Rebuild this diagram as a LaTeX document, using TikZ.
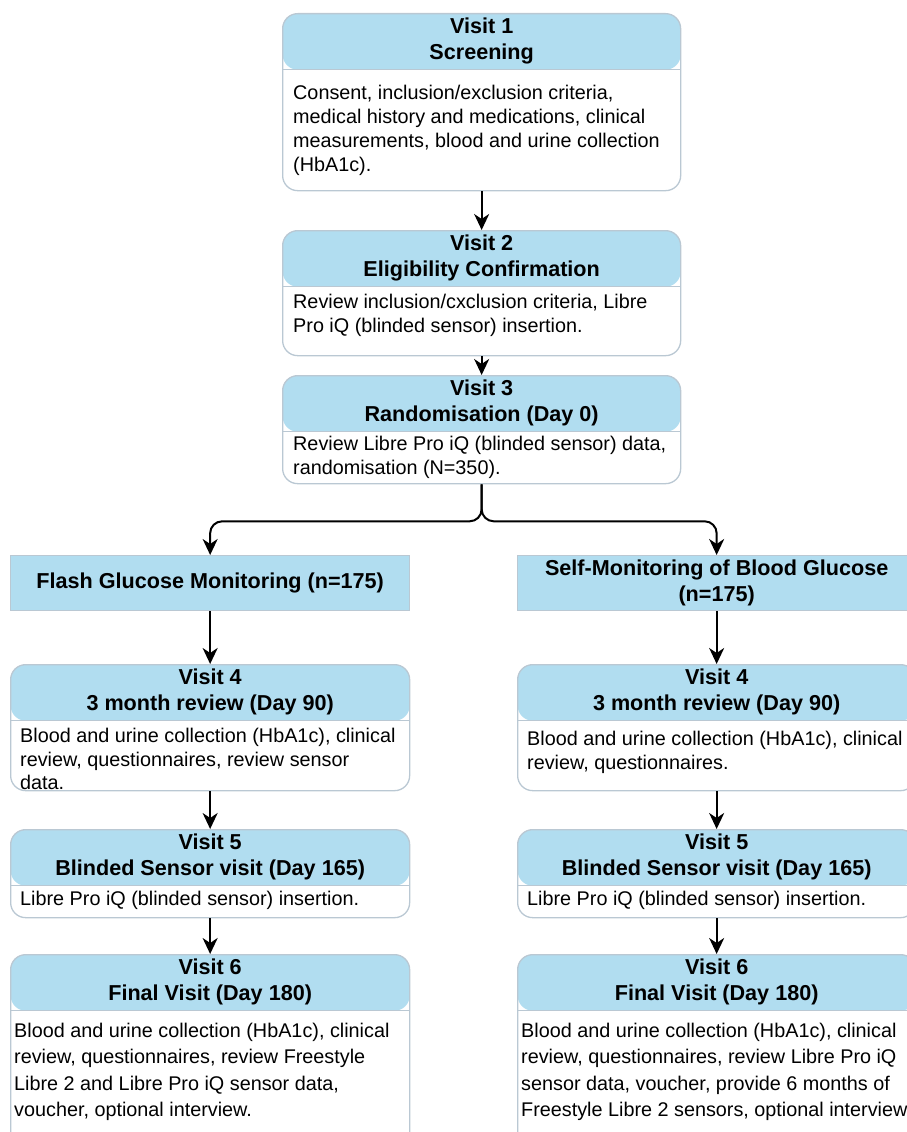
\documentclass[tikz,border=0pt]{standalone}
\usepackage{fontspec}
\setmainfont{Liberation Sans}
\usepackage{tikz}
\usetikzlibrary{arrows.meta}
\definecolor{hdrblue}{HTML}{B1DDF0}
\definecolor{edgegray}{HTML}{BAC8D3}
\newcommand{\hdfont}{\fontsize{21.6}{26}\selectfont\bfseries}
\newcommand{\bdfont}{\fontsize{19.8}{23.8}\selectfont}
\newcommand{\bdfontw}{\fontsize{19.8}{26.3}\selectfont}

\begin{document}
\begin{tikzpicture}[x=1pt,y=-1pt,
   visit/.style={draw=edgegray,line width=1.3pt,fill=white,rounded corners=15pt,
      anchor=north west,inner sep=0pt,
      path picture={
         \fill[hdrblue] (path picture bounding box.north west)
            rectangle ([yshift=-56pt]path picture bounding box.north east);
         \draw[edgegray,line width=1.3pt] ([yshift=-56pt]path picture bounding box.north west)
            -- ([yshift=-56pt]path picture bounding box.north east);}},
   group/.style={draw=edgegray,fill=hdrblue,line width=1.3pt,anchor=north west,
      inner sep=0pt,font=\hdfont,align=center},
   head/.style={font=\hdfont,align=center,inner sep=0pt},
   body/.style={font=\bdfont,align=left,anchor=west,inner sep=0pt},
   link/.style={-{Stealth[length=16pt,width=15pt,inset=5pt]},line width=2pt}]
   \useasboundingbox (0,0) rectangle (907,1132);
   \clip (0,0) rectangle (907,1132);

   \node[visit,minimum width=398pt,minimum height=177pt] (v1) at (282,13) {};
   \node[head] (v1h) at ([yshift=-28pt]v1.north) {Visit 1\\Screening};
   \node[body] (v1b) at (293,130.5) {Consent, inclusion/exclusion criteria,\\
      medical history and medications, clinical\\
      measurements, blood and urine collection\\(HbA1c).};

   \node[visit,minimum width=398pt,minimum height=125pt] (v2) at (282,230) {};
   \node[head] (v2h) at ([yshift=-28pt]v2.north) {Visit 2\\Eligibility Confirmation};
   \node[body] (v2b) at (293,315.5) {Review inclusion/cxclusion criteria, Libre\\
      Pro iQ (blinded sensor) insertion.};

   \node[visit,minimum width=398pt,minimum height=108pt] (v3) at (282,375) {};
   \node[head] (v3h) at ([yshift=-28pt]v3.north) {Visit 3\\Randomisation (Day 0)};
   \node[body] (v3b) at (293,457.5) {Review Libre Pro iQ (blinded sensor) data,\\
      randomisation (N=350).};

   \node[group,minimum width=399pt,minimum height=55pt] (fgm) at (10,555)
      {Flash Glucose Monitoring (n=175)};
   \node[group,minimum width=398pt,minimum height=55pt] (smbg) at (517,555)
      {Self-Monitoring of Blood Glucose\\(n=175)};

   \node[visit,minimum width=399pt,minimum height=126pt] (f4) at (10,664) {};
   \node[head] (f4h) at ([yshift=-28pt]f4.north) {Visit 4\\3 month review (Day 90)};
   \node[body] (f4b) at (20,759) {Blood and urine collection (HbA1c), clinical\\
      review, questionnaires, review sensor\\data.};

   \node[visit,minimum width=398pt,minimum height=126pt] (s4) at (517,664) {};
   \node[head] (s4h) at ([yshift=-28pt]s4.north) {Visit 4\\3 month review (Day 90)};
   \node[body] (s4b) at (527,752) {Blood and urine collection (HbA1c), clinical\\
      review, questionnaires.};

   \node[visit,minimum width=399pt,minimum height=88pt] (f5) at (10,829) {};
   \node[head] (f5h) at ([yshift=-28pt]f5.north) {Visit 5\\Blinded Sensor visit (Day 165)};
   \node[body] (f5b) at (20,900) {Libre Pro iQ (blinded sensor) insertion.};

   \node[visit,minimum width=398pt,minimum height=88pt] (s5) at (517,829) {};
   \node[head] (s5h) at ([yshift=-28pt]s5.north) {Visit 5\\Blinded Sensor visit (Day 165)};
   \node[body] (s5b) at (527,900) {Libre Pro iQ (blinded sensor) insertion.};

   \node[visit,minimum width=399pt,minimum height=200pt] (f6) at (10,954) {};
   \node[head] (f6h) at ([yshift=-28pt]f6.north) {Visit 6\\Final Visit (Day 180)};
   \node[body,font=\bdfontw] (f6b) at (14,1072) {Blood and urine collection (HbA1c), clinical\\
      review, questionnaires, review Freestyle\\
      Libre 2 and Libre Pro iQ sensor data,\\
      voucher, optional interview.};

   \node[visit,minimum width=398pt,minimum height=200pt] (s6) at (517,954) {};
   \node[head] (s6h) at ([yshift=-28pt]s6.north) {Visit 6\\Final Visit (Day 180)};
   \node[body,font=\bdfontw] (s6b) at (521,1072) {Blood and urine collection (HbA1c), clinical\\
      review, questionnaires, review Libre Pro iQ\\
      sensor data, voucher, provide 6 months of\\
      Freestyle Libre 2 sensors, optional interview};

   \draw[link] (v1.south) -- (v2.north);
   \draw[link] (v2.south) -- (v3.north);
   \draw[link,rounded corners=12pt] (v3.south) -- ++(0,37) -| (fgm.north);
   \draw[link,rounded corners=12pt] (v3.south) -- ++(0,37) -| (smbg.north);
   \draw[link] (fgm.south) -- (f4.north);
   \draw[link] (smbg.south) -- (s4.north);
   \draw[link] (f4.south) -- (f5.north);
   \draw[link] (s4.south) -- (s5.north);
   \draw[link] (f5.south) -- (f6.north);
   \draw[link] (s5.south) -- (s6.north);
\end{tikzpicture}
\end{document}
